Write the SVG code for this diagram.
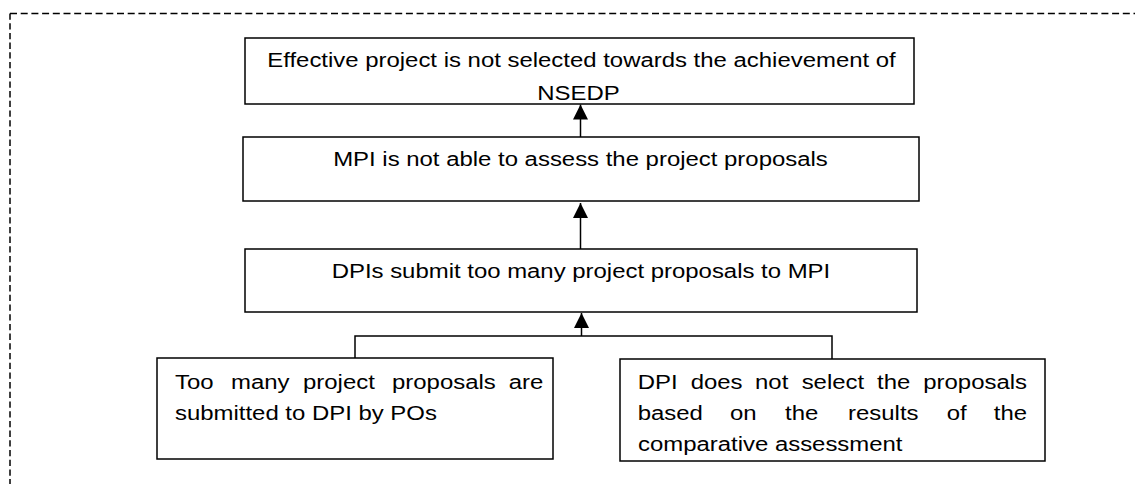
<svg xmlns="http://www.w3.org/2000/svg" width="1135" height="484" viewBox="0 0 1135 484">
  <defs>
    <style>
      .box { fill: #fff; stroke: #000; stroke-width: 1.5; }
      .link { fill: none; stroke: #000; stroke-width: 1.5; }
      .frame { fill: none; stroke: #000; stroke-width: 1.5; }
      .lbl { font-family: "Liberation Sans", Arial, sans-serif; font-size: 21px; fill: #000; }
      .mid { text-anchor: middle; }
      .end { text-anchor: end; }
    </style>
    <marker id="arrow" markerUnits="userSpaceOnUse" markerWidth="15" markerHeight="15" viewBox="0 0 15 15" refX="15" refY="7.5" orient="auto">
      <path d="M0,0 L15,7.5 L0,15 Z" fill="#000"/>
    </marker>
  </defs>

  <rect width="1135" height="484" fill="#fff"/>

  <!-- dashed outer frame (top and left edges) -->
  <g id="frame">
    <line class="frame" x1="10" y1="13.5" x2="1135" y2="13.5" stroke-dasharray="7 3.7"/>
    <line class="frame" x1="10" y1="13.5" x2="10" y2="484" stroke-dasharray="6.3 3.4" stroke-width="2"/>
  </g>

  <!-- connectors -->
  <g id="connectors">
    <line class="link" x1="580.5" y1="137" x2="580.5" y2="104.5" marker-end="url(#arrow)"/>
    <line class="link" x1="580.5" y1="249" x2="580.5" y2="203" marker-end="url(#arrow)"/>
    <path class="link" d="M355,358 V336 H832 V359"/>
    <line class="link" x1="581.5" y1="336" x2="581.5" y2="313" marker-end="url(#arrow)"/>
  </g>

  <!-- boxes -->
  <g id="node-effect">
    <rect class="box" x="245" y="38" width="669" height="66"/>
  </g>
  <g id="node-mpi">
    <rect class="box" x="243" y="137" width="676" height="64"/>
  </g>
  <g id="node-dpis">
    <rect class="box" x="245" y="249" width="672" height="63"/>
  </g>
  <g id="node-pos">
    <rect class="box" x="157" y="358" width="396" height="101"/>
  </g>
  <g id="node-dpi-select">
    <rect class="box" x="620" y="359" width="425" height="102"/>
  </g>

  <!-- labels: glyphs are drawn slightly wide, so the text layer is stretched horizontally -->
  <g id="labels" transform="scale(1.14,1)">
    <text class="lbl mid" x="510.1" y="66.7">Effective project is not selected towards the achievement of</text>
    <text class="lbl mid" x="507.5" y="100">NSEDP</text>

    <text class="lbl mid" x="509.2" y="165.7">MPI is not able to assess the project proposals</text>

    <text class="lbl mid" x="509.6" y="278">DPIs submit too many project proposals to MPI</text>

    <text class="lbl" y="389.5"><tspan x="153.5">Too</tspan><tspan x="202.6">many</tspan><tspan x="265.8">project</tspan><tspan x="343.9">proposals</tspan><tspan x="476.6" class="end">are</tspan></text>
    <text class="lbl" x="153.5" y="420.5">submitted to DPI by POs</text>

    <text class="lbl" y="389.5"><tspan x="559.4">DPI</tspan><tspan x="605.9">does</tspan><tspan x="662.3">not</tspan><tspan x="703.2">select</tspan><tspan x="769.3">the</tspan><tspan x="900.9" class="end">proposals</tspan></text>
    <text class="lbl" y="420.5"><tspan x="559.4">based</tspan><tspan x="640.4">on</tspan><tspan x="688.6">the</tspan><tspan x="743.9">results</tspan><tspan x="830.4">of</tspan><tspan x="900.9" class="end">the</tspan></text>
    <text class="lbl" x="559.6" y="451.5">comparative assessment</text>
  </g>
</svg>
